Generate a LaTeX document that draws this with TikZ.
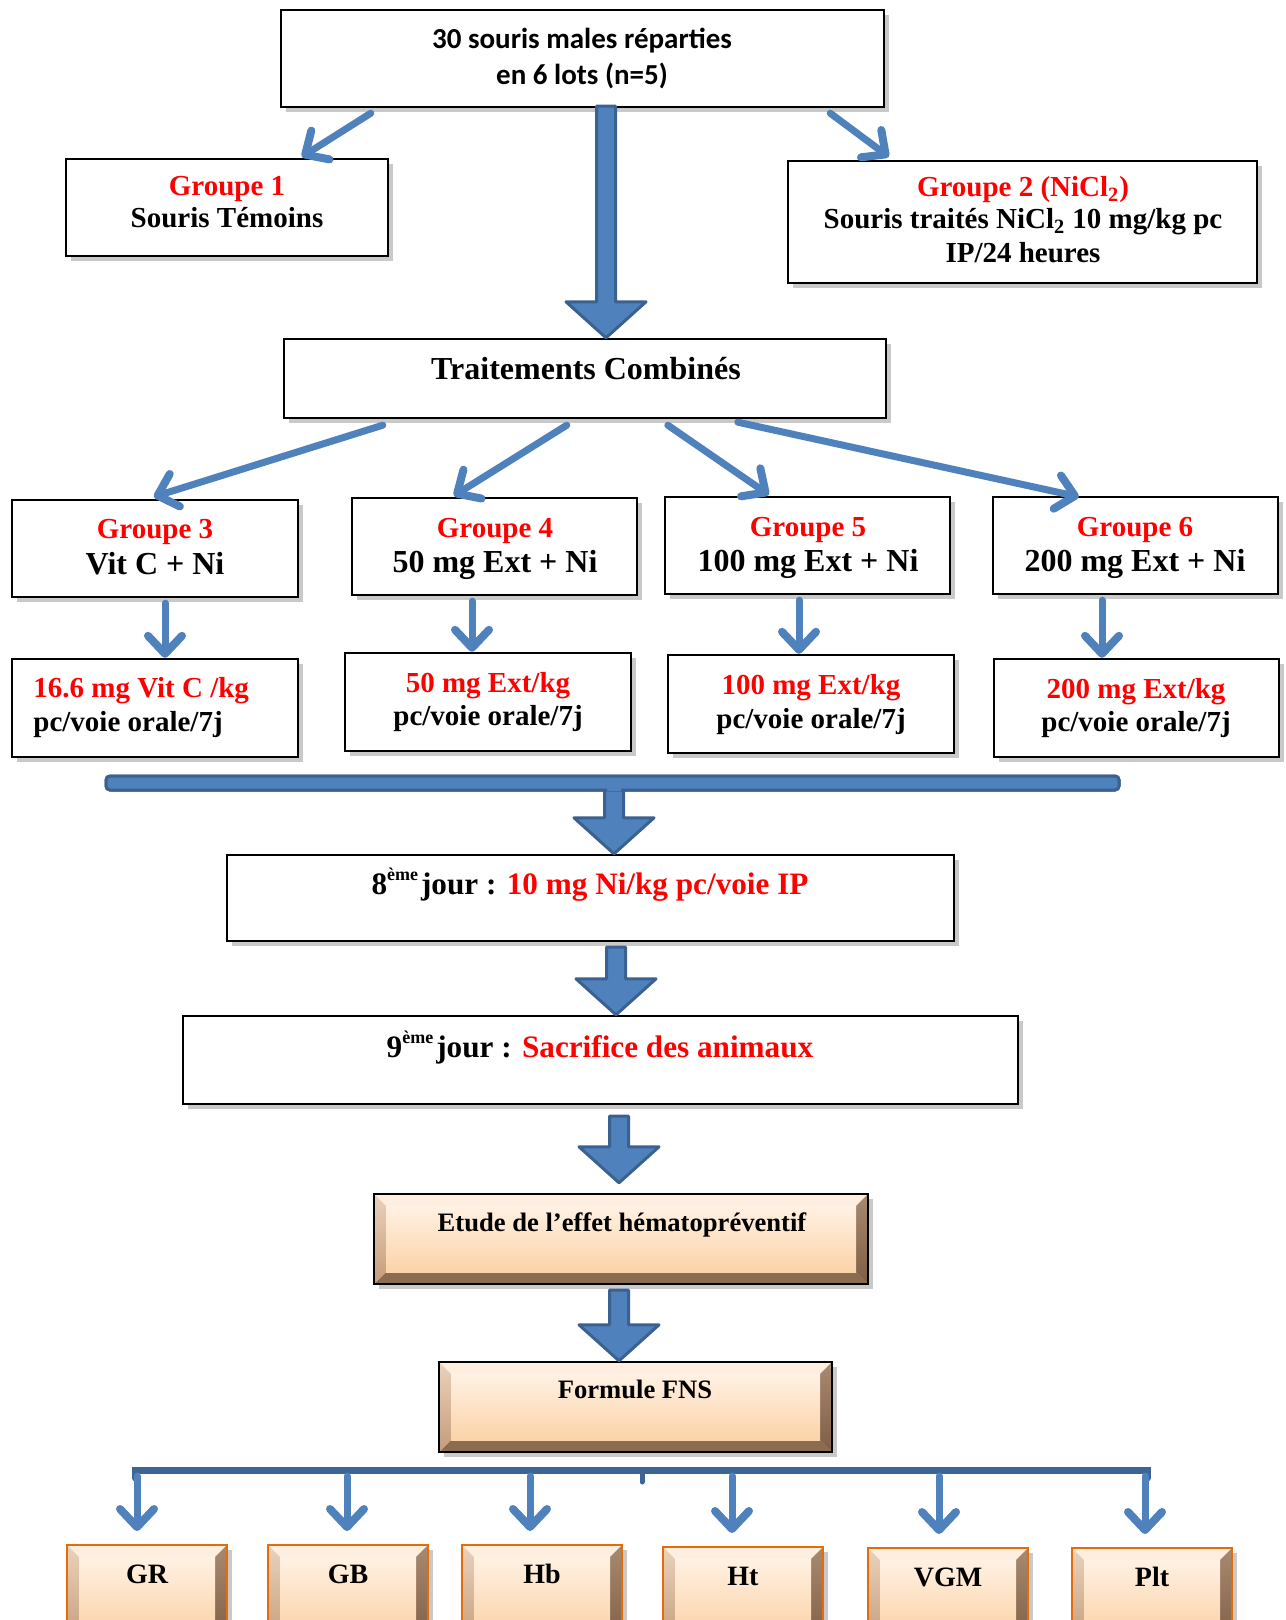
\documentclass[tikz,border=0pt]{standalone}
\usepackage{fontspec}
\setmainfont{Liberation Serif}
\newfontfamily\calib{Carlito}
\usetikzlibrary{arrows.meta,calc,shadows}

\definecolor{arrfill}{HTML}{4F81BD}
\definecolor{arrdraw}{HTML}{3A6190}
\definecolor{barline}{HTML}{3D6594}
\definecolor{rd}{HTML}{FF0000}
\definecolor{bvtop}{HTML}{FDEEE0}
\definecolor{bvlefttop}{HTML}{EAD2BC}
\definecolor{bvleftbot}{HTML}{C49C78}
\definecolor{bvrighttop}{HTML}{A88A70}
\definecolor{bvrightbot}{HTML}{7E5E44}
\definecolor{bvbot}{HTML}{8C6C50}
\definecolor{inntop}{HTML}{FFF1E3}
\definecolor{innbot}{HTML}{FBD3A8}
\definecolor{orng}{HTML}{E46C0A}

\newcommand\placebox[6]{%
 \pgfmathsetmacro\pbcx{(#3+#5)/2}\pgfmathsetmacro\pbcy{(#4+#6)/2}%
 \pgfmathsetmacro\pbw{(#5-#3)*0.5}\pgfmathsetmacro\pbh{(#6-#4)*0.5}%
 \node[#1, minimum width=\pbw pt, minimum height=\pbh pt] (#2) at (\pbcx,\pbcy) {};}

\newcommand\tline[5][]{\node[tl,#1] (#2) at (#3,#4) {#5};}
\newcommand\supx[1]{\raisebox{0.42em}{\fontsize{9}{9}\selectfont\bfseries #1}}

\newcommand\bigarrow[2]{%
 \path[bigarr] let \p1=(#1), \p2=(#2) in
 (\x1-4.75pt,\y1) -- (\x1+4.75pt,\y1) -- (\x1+4.75pt,\y2+18pt) -- (\x1+20pt,\y2+18pt)
 -- (\x1,\y2) -- (\x1-20pt,\y2+18pt) -- (\x1-4.75pt,\y2+18pt) -- cycle;}

\tikzset{
 shadowed/.style={drop shadow={shadow xshift=2.5pt, shadow yshift=-2.5pt, opacity=0.3, fill=black!70}},
 wbox/.style={rectangle, draw=black, line width=1.2pt, fill=white, inner sep=0pt, shadowed},
 bevel/.style={rectangle, inner sep=0pt, shadowed, fill=innbot,
  path picture={
   \fill[bvbot] let \p1=(path picture bounding box.south west), \p2=(path picture bounding box.north east) in
     (\x1,\y1) -- (\x2,\y1) -- (\x2-6pt,\y1+6pt) -- (\x1+6pt,\y1+6pt) -- cycle;
   \fill[bvtop] let \p1=(path picture bounding box.south west), \p2=(path picture bounding box.north east) in
     (\x1,\y2) -- (\x2,\y2) -- (\x2-6pt,\y2-6pt) -- (\x1+6pt,\y2-6pt) -- cycle;
   \shade[top color=bvlefttop, bottom color=bvleftbot] let \p1=(path picture bounding box.south west), \p2=(path picture bounding box.north east) in
     (\x1,\y1) -- (\x1+6pt,\y1+6pt) -- (\x1+6pt,\y2-6pt) -- (\x1,\y2) -- cycle;
   \shade[top color=bvrighttop, bottom color=bvrightbot] let \p1=(path picture bounding box.south west), \p2=(path picture bounding box.north east) in
     (\x2,\y1) -- (\x2-6pt,\y1+6pt) -- (\x2-6pt,\y2-6pt) -- (\x2,\y2) -- cycle;
   \shade[top color=inntop, bottom color=innbot] let \p1=(path picture bounding box.south west), \p2=(path picture bounding box.north east) in
     (\x1+6pt,\y1+6pt) rectangle (\x2-6pt,\y2-6pt);
  }},
 bevelblack/.style={bevel, draw=black, line width=1.2pt},
 bevelorange/.style={bevel, draw=orng, line width=1pt},
 tl/.style={anchor=base, inner sep=0pt, font=\bfseries\fontsize{14.5}{16}\selectfont},
 tlbig/.style={font=\bfseries\fontsize{16}{18}\selectfont},
 tlday/.style={font=\bfseries\fontsize{15.6}{18}\selectfont},
 tlsmall/.style={font=\bfseries\fontsize{13.3}{15}\selectfont},
 tlcal/.style={font=\calib\bfseries\fontsize{14.5}{16}\selectfont},
 tlbot/.style={font=\bfseries\fontsize{14}{16}\selectfont},
 thinarr/.style={draw=arrfill, line width=3.5pt, line cap=round,
   -{Straight Barb[length=9pt, width=17pt, line width=4pt, round]}},
 bigarr/.style={fill=arrfill, draw=arrdraw, line width=1.5pt, line join=round},
 barnode/.style={rectangle, fill=arrfill, draw=arrdraw, line width=1.5pt, rounded corners=2pt, inner sep=0pt},
 thinbar/.style={draw=barline, line width=3.5pt},
}

\begin{document}
\begin{tikzpicture}[x=0.5pt, y=-0.5pt]
\useasboundingbox (0,0) rectangle (1285,1620);
\clip (0,0) rectangle (1285,1620);

% ---------- boxes ----------
\placebox{wbox}{top}{281}{10}{884}{107}
\placebox{wbox}{g1}{66}{159}{388}{256}
\placebox{wbox}{g2}{788}{161}{1257}{283}
\placebox{wbox}{trait}{284}{339}{886}{418}
\placebox{wbox}{g3}{12}{500}{298}{597}
\placebox{wbox}{g4}{352}{498}{637}{595}
\placebox{wbox}{g5}{665}{497}{950}{594}
\placebox{wbox}{g6}{993}{497}{1278}{594}
\placebox{wbox}{d3}{12}{659}{298}{757}
\placebox{wbox}{d4}{345}{653}{631}{751}
\placebox{wbox}{d5}{668}{655}{954}{753}
\placebox{wbox}{d6}{994}{659}{1279}{757}
\placebox{barnode}{bar1}{106}{776}{1119}{790}
\placebox{wbox}{day8}{227}{855}{954}{941}
\placebox{wbox}{day9}{183}{1016}{1018}{1104}
\placebox{bevelblack}{etude}{374}{1194}{868}{1284}
\placebox{bevelblack}{fns}{439}{1362}{832}{1452}
\placebox{bevelorange}{GR}{67}{1545}{227}{1645}
\placebox{bevelorange}{GB}{268}{1545}{428}{1645}
\placebox{bevelorange}{Hb}{462}{1545}{622}{1645}
\placebox{bevelorange}{Ht}{663}{1547}{823}{1645}
\placebox{bevelorange}{VGM}{868}{1548}{1028}{1645}
\placebox{bevelorange}{Plt}{1072}{1548}{1232}{1645}

% ---------- texts ----------
\tline[tlcal]{ttop1}{582}{49}{30 souris males réparties}
\tline[tlcal]{ttop2}{582}{85}{en 6 lots (n=5)}
\tline[text=rd]{tg1a}{227}{196}{Groupe 1}
\tline{tg1b}{227}{228}{Souris Témoins}
\tline[text=rd]{tg2a}{1023}{197}{Groupe 2 (NiCl\textsubscript{2})}
\tline{tg2b}{1023}{229}{Souris traités NiCl\textsubscript{2} 10 mg/kg pc}
\tline{tg2c}{1023}{263}{IP/24 heures}
\tline[tlbig]{ttrait}{586}{380}{Traitements Combinés}
\tline[text=rd]{tg3a}{155}{538}{Groupe 3}
\tline[tlbig]{tg3b}{155}{574}{Vit C + Ni}
\tline[text=rd]{tg4a}{495}{537}{Groupe 4}
\tline[tlbig]{tg4b}{495}{572}{50 mg Ext + Ni}
\tline[text=rd]{tg5a}{808}{536}{Groupe 5}
\tline[tlbig]{tg5b}{808}{571}{100 mg Ext + Ni}
\tline[text=rd]{tg6a}{1135}{536}{Groupe 6}
\tline[tlbig]{tg6b}{1135}{571}{200 mg Ext + Ni}
\tline[text=rd, anchor=base west]{td3a}{33}{697}{16.6 mg Vit C /kg}
\tline[anchor=base west]{td3b}{33}{731}{pc/voie orale/7j}
\tline[text=rd]{td4a}{488}{692}{50 mg Ext/kg}
\tline{td4b}{488}{725}{pc/voie orale/7j}
\tline[text=rd]{td5a}{811}{694}{100 mg Ext/kg}
\tline{td5b}{811}{728}{pc/voie orale/7j}
\tline[text=rd]{td6a}{1136}{698}{200 mg Ext/kg}
\tline{td6b}{1136}{731}{pc/voie orale/7j}
\tline[tlday]{tday8}{590}{894}{8\supx{ème}\hspace{1.5pt}jour : \textcolor{rd}{10 mg Ni/kg pc/voie IP}}
\tline[tlday]{tday9}{600}{1057}{9\supx{ème}\hspace{1.5pt}jour : \textcolor{rd}{Sacrifice des animaux}}
\tline[tlsmall]{tetude}{622}{1231}{Etude de l’effet hématopréventif}
\tline[tlsmall]{tfns}{635}{1398}{Formule FNS}
\tline[tlbot]{tGR}{147}{1583}{GR}
\tline[tlbot]{tGB}{348}{1583}{GB}
\tline[tlbot]{tHb}{542}{1583}{Hb}
\tline[tlbot]{tHt}{743}{1585}{Ht}
\tline[tlbot]{tVGM}{948}{1586}{VGM}
\tline[tlbot]{tPlt}{1152}{1586}{Plt}

% ---------- thin arrows ----------
\draw[thinarr] ($(top.south west)+(91,5)$) -- ($(g1.north west)+(237,-1)$);
\draw[thinarr] ($(top.south east)+(-55,5)$) -- ($(g2.north west)+(102,-3)$);
\draw[thinarr] ($(trait.south west)+(100,6)$) -- ($(g3.north west)+(143,-2)$);
\draw[thinarr] ($(trait.south west)+(284,6)$) -- ($(g4.north west)+(103,-1)$);
\draw[thinarr] ($(trait.south west)+(385,6)$) -- ($(g5.north west)+(105,-1)$);
\draw[thinarr] ($(trait.south west)+(455,3)$) -- ($(g6.north west)+(87,1)$);

\coordinate (x3) at (165,0);
\coordinate (x4) at (472,0);
\coordinate (x5) at (799,0);
\coordinate (x6) at (1102,0);
\draw[thinarr] ($(g3.south -| x3)+(0,5)$) -- (d3.north -| x3);
\draw[thinarr] ($(g4.south -| x4)+(0,5)$) -- (d4.north -| x4);
\draw[thinarr] ($(g5.south -| x5)+(0,5)$) -- (d5.north -| x5);
\draw[thinarr] ($(g6.south -| x6)+(0,5)$) -- (d6.north -| x6);

% ---------- big arrows ----------
\coordinate (ax1) at (606,0);
\coordinate (ax2) at (614,0);
\coordinate (ax3) at (616,0);
\coordinate (ax4) at (619,0);
\bigarrow{$(top.south -| ax1)+(0,-2)$}{trait.north -| ax1}
\bigarrow{bar1.center -| ax2}{day8.north -| ax2}
\bigarrow{$(day8.south -| ax3)+(0,5)$}{day9.north -| ax3}
\bigarrow{$(day9.south -| ax4)+(0,11)$}{$(etude.north -| ax4)+(0,-10)$}
\bigarrow{$(etude.south -| ax4)+(0,5)$}{fns.north -| ax4}
\node[barnode, minimum width=506.5pt, minimum height=7pt] (bar1b) at (bar1) {};
\fill[arrfill] ($(bar1.center -| ax2)+(-3.3pt,0)$) rectangle ($(bar1.south -| ax2)+(3.3pt,-1)$);

% ---------- bottom bar ----------
\coordinate (bl) at (135,1470);
\coordinate (br) at (1147,1470);
\draw[thinbar, line cap=round] ($(bl)+(0,8)$) -- (bl) -- (br) -- ($(br)+(0,8)$);
\draw[thinbar, line width=2.5pt, line cap=round] (642,1470) -- (642,1482);
\foreach \nm/\xx in {GR/137, GB/347, Hb/530, Ht/732, VGM/939, Plt/1145}{
  \coordinate (s\nm) at (\xx,1476);
  \draw[thinarr] (s\nm) -- ($(s\nm |- \nm.north)+(0,-13)$);
}
\end{tikzpicture}
\end{document}
